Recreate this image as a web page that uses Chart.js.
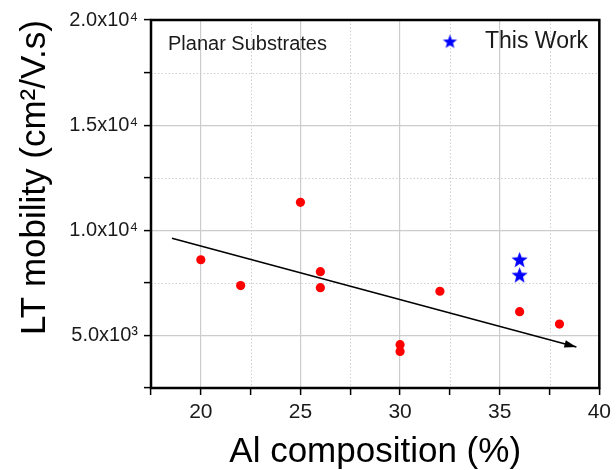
<!DOCTYPE html>
<html>
<head>
<meta charset="utf-8">
<script src="https://cdn.jsdelivr.net/npm/chart.js@4.4.0/dist/chart.umd.min.js"></script>
<style>
  html, body { margin: 0; padding: 0; background: #fff; }
</style>
</head>
<body>
<canvas id="c" width="616" height="470"></canvas>
<script>
// data
const planarX = [20, 22, 25, 26, 26, 30, 30, 32, 36, 38];
const planarY = [8600, 7370, 11330, 8030, 7270, 4560, 4240, 7100, 6130, 5540];
const thisWorkX = [36, 36];
const thisWorkY = [8570, 7840];
const trendX = [18.55, 38.85];
const trendY = [9620, 4450];
const xMajor = [20, 25, 30, 35, 40];
const yMajor = [5000, 10000, 15000, 20000];
const yTickLabels = ["5.0x10³", "1.0x10⁴", "1.5x10⁴", "2.0x10⁴"];

const FONT = "'Liberation Sans', Arial, sans-serif";

function makeStar(r) {
    const c = document.createElement("canvas");
    const s = Math.ceil(r * 2 + 2);
    c.width = s; c.height = s;
    const g = c.getContext("2d");
    g.fillStyle = "#0000ff";
    g.beginPath();
    for (let i = 0; i < 10; i++) {
        const a = -Math.PI / 2 + i * Math.PI / 5;
        const rr = i % 2 ? r * 0.42 : r;
        g.lineTo(s / 2 + rr * Math.cos(a), s / 2 + rr * Math.sin(a));
    }
    g.closePath();
    g.fill();
    return c;
}
const starImg = makeStar(8.5);
const legendStar = makeStar(7.5);

const isMajorX = v => xMajor.includes(v);
const isMajorY = v => yMajor.includes(v);

const decorations = {
    id: "decorations",
    beforeDatasetsDraw(chart) {
        const { ctx, chartArea: a, scales: { x, y } } = chart;
        ctx.save();
        ctx.strokeStyle = "#cfcfcf";
        ctx.lineWidth = 1;
        ctx.setLineDash([1.5, 2]);
        x.ticks.forEach(t => {
            if (isMajorX(t.value)) return;
            const px = Math.round(x.getPixelForValue(t.value)) + 0.5;
            ctx.beginPath(); ctx.moveTo(px, a.top); ctx.lineTo(px, a.bottom); ctx.stroke();
        });
        y.ticks.forEach(t => {
            if (isMajorY(t.value)) return;
            const py = Math.round(y.getPixelForValue(t.value)) + 0.5;
            ctx.beginPath(); ctx.moveTo(a.left, py); ctx.lineTo(a.right, py); ctx.stroke();
        });
        ctx.restore();
    },
    afterDatasetsDraw(chart) {
        const { ctx, chartArea: a } = chart;
        // arrow head on the trend line
        const pts = chart.getDatasetMeta(2).data;
        const p0 = pts[0], p1 = pts[1];
        const ang = Math.atan2(p1.y - p0.y, p1.x - p0.x);
        ctx.save();
        ctx.fillStyle = "#000";
        ctx.translate(p1.x, p1.y);
        ctx.rotate(ang);
        ctx.beginPath();
        ctx.moveTo(0, 0);
        ctx.lineTo(-12, -3.8);
        ctx.lineTo(-12, 3.8);
        ctx.closePath();
        ctx.fill();
        ctx.restore();

        // frame
        ctx.save();
        ctx.strokeStyle = "#000";
        ctx.lineWidth = 2.5;
        ctx.strokeRect(a.left, a.top, a.right - a.left, a.bottom - a.top);

        // annotation + legend
        ctx.fillStyle = "#1a1a1a";
        ctx.textBaseline = "middle";
        ctx.font = "20px " + FONT;
        ctx.fillText("Planar Substrates", a.left + 17, a.top + 24);
        ctx.drawImage(legendStar, a.left + 299 - legendStar.width / 2, a.top + 22 - legendStar.height / 2);
        ctx.font = "23px " + FONT;
        ctx.fillText("This Work", a.left + 334, a.top + 22);
        ctx.restore();
    }
};

new Chart(document.getElementById("c").getContext("2d"), {
    type: "scatter",
    data: {
        datasets: [
            {
                label: "Planar Substrates",
                data: planarX.map((v, i) => ({ x: v, y: planarY[i] })),
                backgroundColor: "#ff0000",
                borderWidth: 0,
                pointRadius: 4.6,
            },
            {
                label: "This Work",
                data: thisWorkX.map((v, i) => ({ x: v, y: thisWorkY[i] })),
                pointStyle: starImg,
            },
            {
                label: "trend",
                data: trendX.map((v, i) => ({ x: v, y: trendY[i] })),
                showLine: true,
                borderColor: "#000",
                borderWidth: 1.5,
                pointRadius: 0,
            },
        ],
    },
    options: {
        responsive: false,
        animation: false,
        devicePixelRatio: 1,
        layout: { padding: { left: 0, right: 13, top: 20, bottom: 0 } },
        plugins: { legend: { display: false }, tooltip: { enabled: false } },
        scales: {
            x: {
                type: "linear",
                min: 17.5,
                max: 40,
                afterFit(s) { s.height = 82; },
                border: { display: false },
                grid: {
                    color: c => isMajorX(c.tick.value) ? "#cccccc" : "rgba(0,0,0,0)",
                    lineWidth: 1.2,
                    tickColor: "#000",
                    tickLength: 7,
                    tickWidth: 1.5,
                },
                ticks: {
                    stepSize: 2.5,
                    autoSkip: false,
                    maxRotation: 0,
                    padding: 5,
                    color: "#1a1a1a",
                    font: { family: FONT, size: 21 },
                    callback: v => isMajorX(v) ? String(v) : "",
                },
                title: {
                    display: true,
                    text: "Al composition (%)",
                    color: "#000",
                    font: { family: FONT, size: 35, lineHeight: 1 },
                    padding: { top: 0, bottom: 0 },
                },
            },
            y: {
                type: "linear",
                min: 2500,
                max: 20000,
                afterFit(s) { s.width = 151; },
                border: { display: false },
                grid: {
                    color: c => isMajorY(c.tick.value) ? "#cccccc" : "rgba(0,0,0,0)",
                    lineWidth: 1.2,
                    tickColor: "#000",
                    tickLength: 7,
                    tickWidth: 1.5,
                },
                ticks: {
                    stepSize: 2500,
                    autoSkip: false,
                    padding: 6,
                    color: "#1a1a1a",
                    font: { family: FONT, size: 20 },
                    callback: v => isMajorY(v) ? yTickLabels[yMajor.indexOf(v)] : "",
                },
                title: {
                    display: true,
                    text: "LT mobility (cm²/V.s)",
                    align: "end",
                    color: "#000",
                    font: { family: FONT, size: 35, lineHeight: 1 },
                    padding: { top: 18, bottom: 0 },
                },
            },
        },
    },
    plugins: [decorations],
});
</script>
</body>
</html>
